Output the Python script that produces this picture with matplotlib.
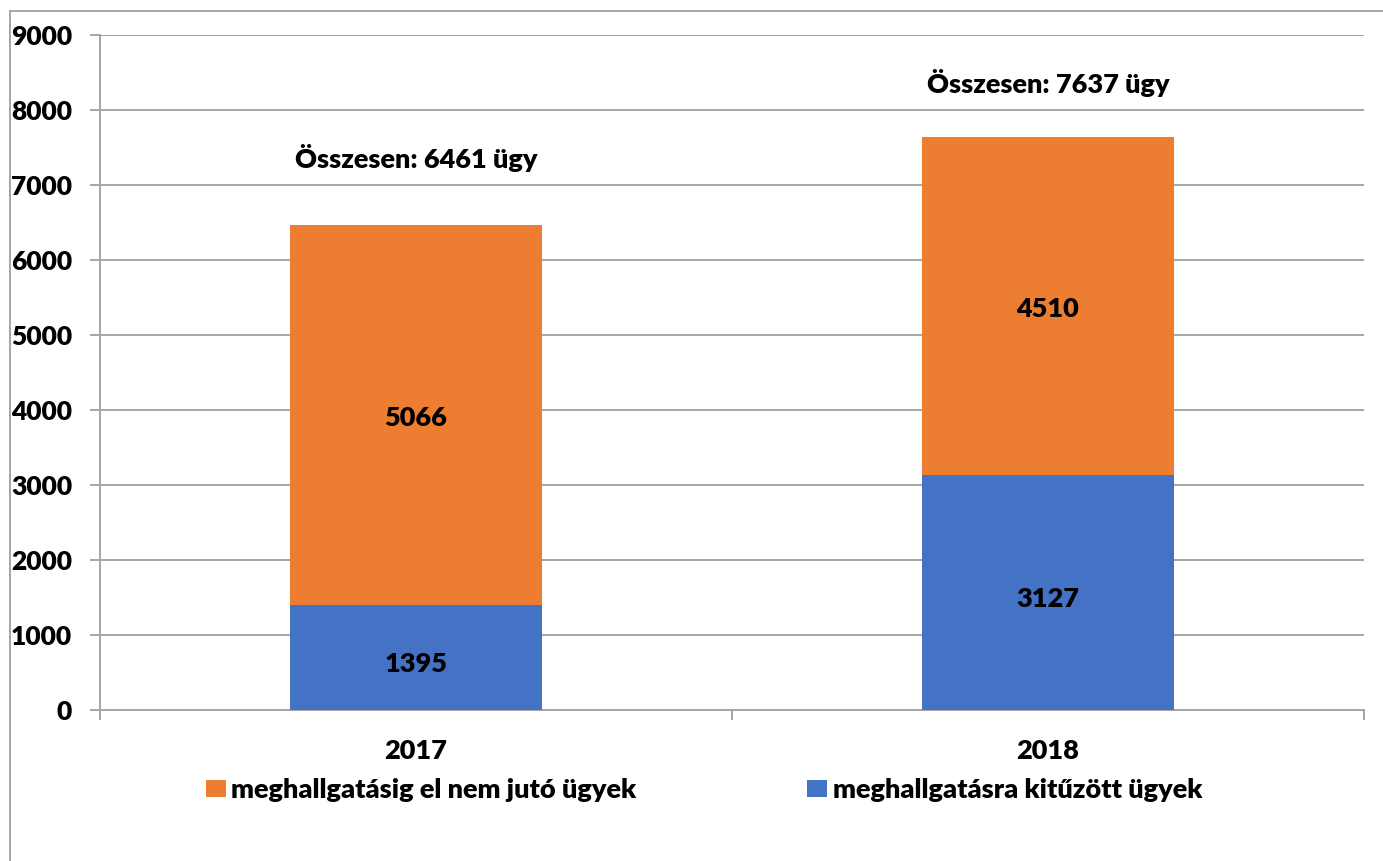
import matplotlib.pyplot as plt
from matplotlib.lines import Line2D

# data
years = ["2017", "2018"]
kituzott = [1395, 3127]          # meghallgatásra kitűzött ügyek
nem_juto = [5066, 4510]          # meghallgatásig el nem jutó ügyek
totals = [6461, 7637]
total_label_y = [7360, 8360]     # where the "Összesen" texts sit

BLUE = "#4472C4"
ORANGE = "#ED7D31"
GRID = "#A6A6A6"
W, H = 1383, 861
FS = 19.5
WT = 800

plt.rcParams["font.family"] = ["Lato", "DejaVu Sans"]
plt.rcParams["font.weight"] = WT

fig = plt.figure(figsize=(W / 100, H / 100), dpi=100)
ax = fig.add_axes([100 / W, 1 - 710 / H, (1364 - 100) / W, (710 - 35) / H])

x = list(range(len(years)))
ax.bar(x, kituzott, width=0.4, color=BLUE, label="meghallgatásra kitűzött ügyek", zorder=3)
ax.bar(x, nem_juto, width=0.4, bottom=kituzott, color=ORANGE,
       label="meghallgatásig el nem jutó ügyek", zorder=3)

# labels inside the segments
for i in x:
    ax.text(i, kituzott[i] / 2 - 80, str(kituzott[i]), ha="center", va="center",
            fontsize=FS, fontweight=WT, zorder=4)
    ax.text(i, kituzott[i] + nem_juto[i] / 2 - 40, str(nem_juto[i]), ha="center",
            va="center", fontsize=FS, fontweight=WT, zorder=4)
    ax.text(i, total_label_y[i], "Összesen: %d ügy" % totals[i], ha="center",
            va="center", fontsize=FS, fontweight=WT)

ax.set_xlim(-0.5, 1.5)
ax.set_ylim(0, 9000)
ax.set_yticks(range(0, 9001, 1000))
ax.set_xticks(x)
ax.set_xticklabels(years)
ax.set_xticks([-0.5, 0.5, 1.5], minor=True)

ax.tick_params(axis="y", length=7.2, width=1.4, color=GRID, pad=13, labelsize=19)
ax.tick_params(axis="x", which="major", length=0, pad=21, labelsize=FS)
ax.tick_params(axis="x", which="minor", length=7.2, width=1.4, color=GRID)
for lab in ax.get_xticklabels() + ax.get_yticklabels():
    lab.set_fontweight(WT)

ax.grid(axis="y", color=GRID, linewidth=1.4, zorder=0)
ax.set_axisbelow(True)
for s in ["top", "right"]:
    ax.spines[s].set_visible(False)
for s in ["left", "bottom"]:
    ax.spines[s].set_color(GRID)
    ax.spines[s].set_linewidth(1.4)

# legend, orange first
h, l = ax.get_legend_handles_labels()
fig.legend([h[1], h[0]], [l[1], l[0]], loc="center",
           bbox_to_anchor=(704 / W, 1 - 790 / H), ncol=2, frameon=False,
           prop={"size": FS, "weight": WT}, handlelength=0.74,
           handleheight=0.64, handletextpad=0.2, columnspacing=6.3)

# chart frame (only top and left edges visible)
fig.add_artist(Line2D([10 / W, 10 / W], [0, 1 - 11 / H], color=GRID, lw=1.4))
fig.add_artist(Line2D([10 / W, 1], [1 - 11 / H, 1 - 11 / H], color=GRID, lw=1.4))

fig.savefig("out.png", dpi=100)
